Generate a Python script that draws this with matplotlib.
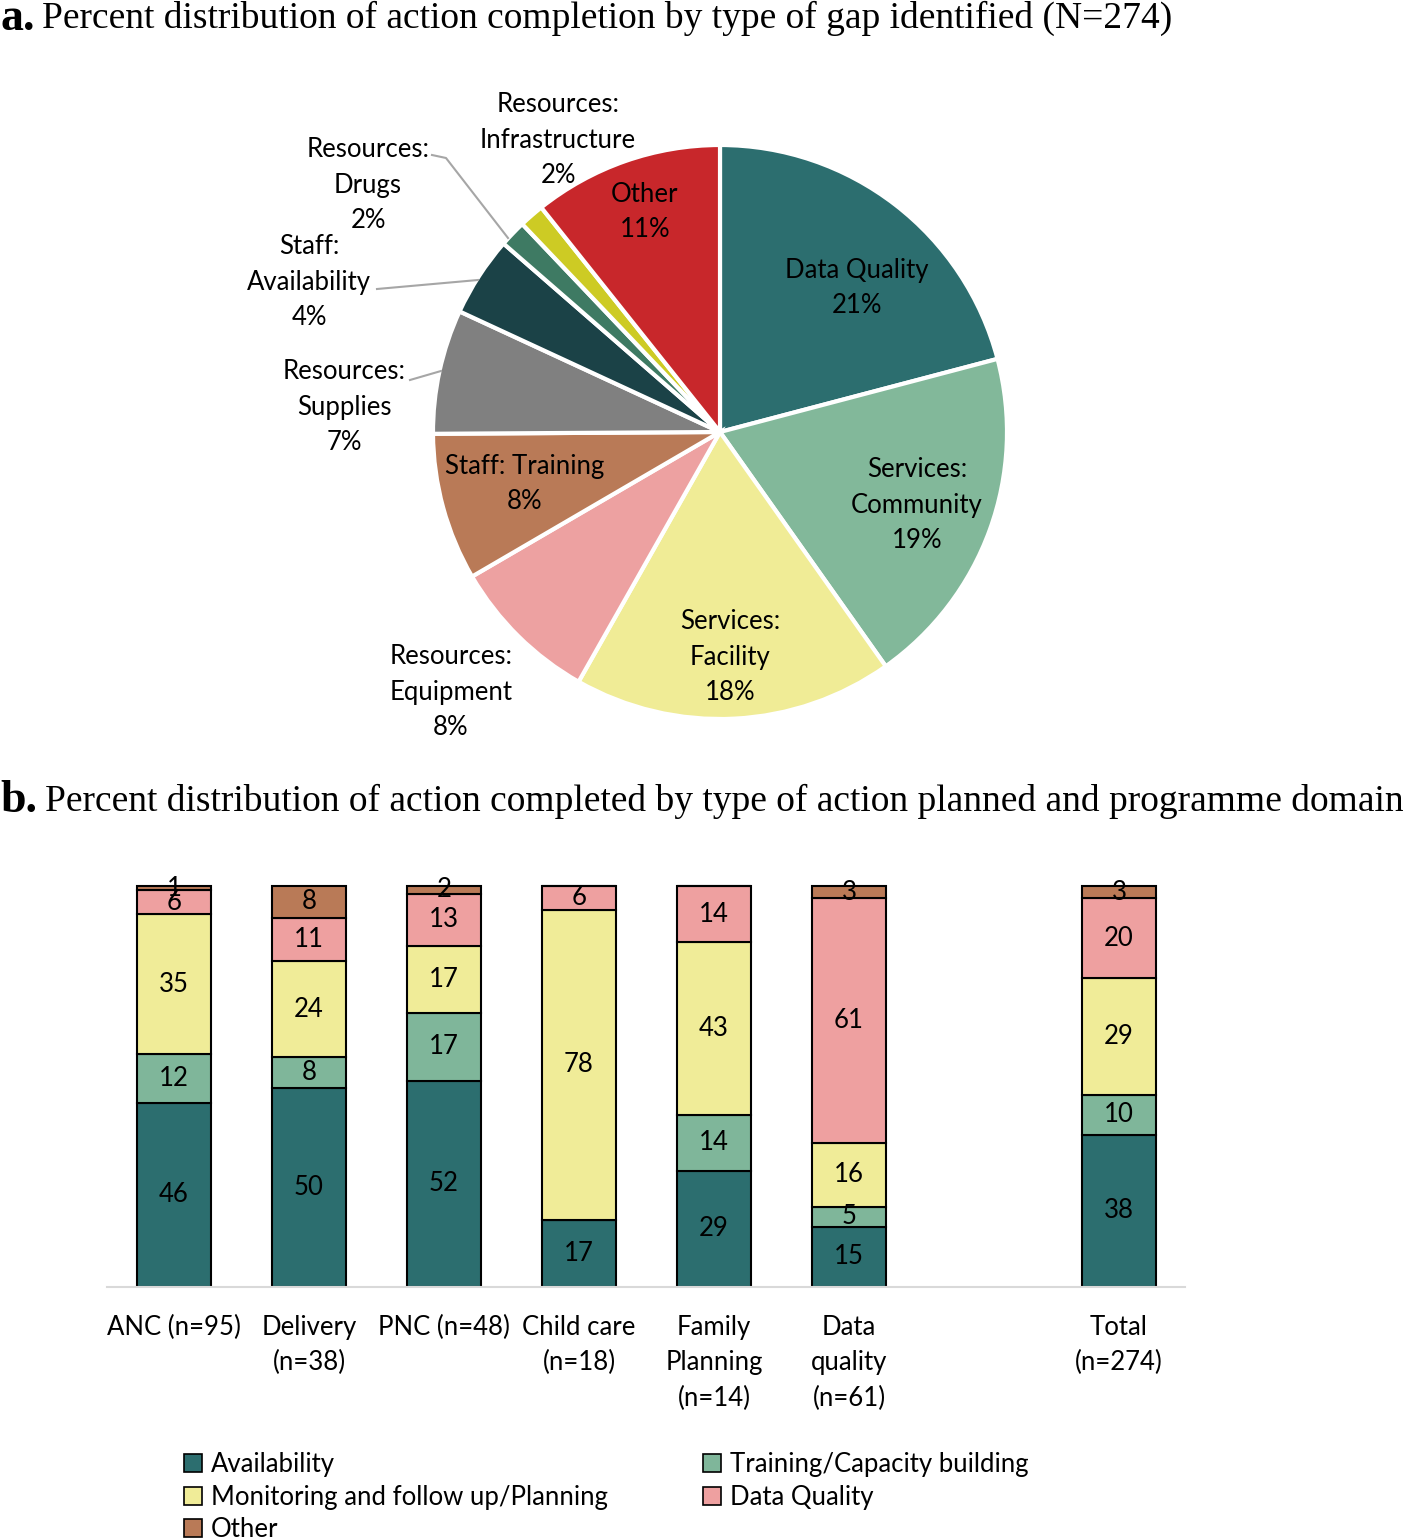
import numpy as np
import matplotlib
matplotlib.use("Agg")
import matplotlib.pyplot as plt
from matplotlib.patches import Patch

# ---- data: panel a (pie) ----
gap_labels = ["Data Quality", "Services:\nCommunity", "Services:\nFacility",
              "Resources:\nEquipment", "Staff: Training", "Resources:\nSupplies",
              "Staff:\nAvailability", "Resources:\nDrugs", "Resources:\nInfrastructure",
              "Other"]
gap_pct_shown = [21, 19, 18, 8, 8, 7, 4, 2, 2, 11]          # labels as printed
gap_share = [20.9, 19.3, 18.0, 8.4, 8.3, 7.0, 4.5, 1.5, 1.4, 10.7]  # slice sizes
gap_colors = ["#2c6e6f", "#82b89a", "#f0ec96", "#eda1a1", "#b97a57", "#808080",
              "#1b4247", "#3e7a63", "#cdcb24", "#c8272b"]

# ---- data: panel b (stacked bars) ----
domains = ["ANC (n=95)", "Delivery\n(n=38)", "PNC (n=48)", "Child care\n(n=18)",
           "Family\nPlanning\n(n=14)", "Data\nquality\n(n=61)", "Total\n(n=274)"]
action_types = ["Availability", "Training/Capacity building",
                "Monitoring and follow up/Planning", "Data Quality", "Other"]
availability = [46, 50, 52, 17, 29, 15, 38]
training = [12, 8, 17, 0, 14, 5, 10]
monitoring = [35, 24, 17, 78, 43, 16, 29]
data_quality = [6, 11, 13, 6, 14, 61, 20]
other = [1, 8, 2, 0, 0, 3, 3]
bar_colors = ["#2c6e6f", "#7fb69a", "#f0ec98", "#eea0a0", "#b97a57"]

W, H = 1418, 1538
fig = plt.figure(figsize=(W / 100, H / 100), dpi=100)
lab_font = "Lato"
fs = 18.5
lsp = 1.52

# titles
fig.text(0, 1 - 19 / H, "a.", fontsize=33, fontweight="bold", family="Liberation Serif", va="center")
fig.text(42 / W, 1 - 18 / H, "Percent distribution of action completion by type of gap identified (N=274)",
         fontsize=27, family="Liberation Serif", va="center")
fig.text(0, 1 - 801 / H, "b.", fontsize=33, fontweight="bold", family="Liberation Serif", va="center")
fig.text(45 / W, 1 - 801 / H, "Percent distribution of action completed by type of action planned and programme domain",
         fontsize=27, family="Liberation Serif", va="center")

# ---- pie ----
cx, cy, R = 720, 432, 287
top_px, bot_px = 40, 760
ax1 = fig.add_axes([0, 1 - bot_px / H, 1, (bot_px - top_px) / H])
ax1.pie(gap_share, colors=gap_colors, startangle=90, counterclock=False, radius=1,
        wedgeprops=dict(edgecolor="white", linewidth=3))
ax1.set_xlim(-cx / R, (W - cx) / R)
ax1.set_ylim((cy - bot_px) / R, (cy - top_px) / R)
ax1.axis("off")


def px(x, y):
    return (x - cx) / R, (cy - y) / R


label_pos = [(857, 288), (917, 505), (730, 657), (451, 692), (525, 484),
             (344, 407), (309, 282), (368, 185), (558, 140), (645, 212)]
for lab, p, pos in zip(gap_labels, gap_pct_shown, label_pos):
    ax1.text(*px(*pos), f"{lab}\n{p}%", ha="center", va="center", fontsize=fs,
             family=lab_font, linespacing=lsp)

# leader lines
leaders = [[(432, 155), (446, 158), (508, 238)],
           [(377, 289), (478, 280)],
           [(410, 380), (441, 371)]]
for pts in leaders:
    xs, ys = zip(*[px(*q) for q in pts])
    ax1.plot(xs, ys, color="#a6a6a6", lw=1.5)

# ---- stacked bars ----
xc0, dx = 174, 135
ax_left, ax_right, ax_top, base = 107, 1185, 870, 1287
unit = (base - 886) / 100
ax2 = fig.add_axes([ax_left / W, 1 - base / H, (ax_right - ax_left) / W, (base - ax_top) / H])
pos = np.array([0, 1, 2, 3, 4, 5, 7])
series = np.array([availability, training, monitoring, data_quality, other], dtype=float)
shares = series / series.sum(axis=0) * 100
bottom = np.zeros(len(domains))
for i, name in enumerate(action_types):
    ax2.bar(pos, shares[i], bottom=bottom, width=0.55, color=bar_colors[i],
            edgecolor="black", linewidth=1.5, label=name)
    for j in range(len(domains)):
        if series[i, j] > 0:
            ax2.text(pos[j], bottom[j] + shares[i, j] / 2, f"{int(series[i, j])}",
                     ha="center", va="center", fontsize=fs, family=lab_font)
    bottom += shares[i]

ax2.set_xlim((ax_left - xc0) / dx, (ax_right - xc0) / dx)
ax2.set_ylim(0, (base - ax_top) / unit)
for s in ["top", "right", "left"]:
    ax2.spines[s].set_visible(False)
ax2.spines["bottom"].set_color("#d9d9d9")
ax2.spines["bottom"].set_linewidth(1.5)
ax2.set_yticks([])
ax2.set_xticks(pos)
ax2.set_xticklabels(domains, fontsize=fs, family=lab_font, linespacing=lsp, va="top")
ax2.tick_params(axis="x", length=0, pad=20)

handles = [Patch(facecolor=c, edgecolor="black", linewidth=1.2) for c in bar_colors]
order = [0, 2, 4, 1, 3]
leg = fig.legend([handles[k] for k in order], [action_types[k] for k in order],
                 ncol=2, loc="upper left", bbox_to_anchor=(184 / W, 1 - 1452 / H),
                 frameon=False, prop={"family": lab_font, "size": fs},
                 handlelength=0.7, handleheight=0.7, handletextpad=0.35,
                 labelspacing=0.3, columnspacing=3.7, borderaxespad=0, borderpad=0)

fig.savefig("out.png", dpi=100)
